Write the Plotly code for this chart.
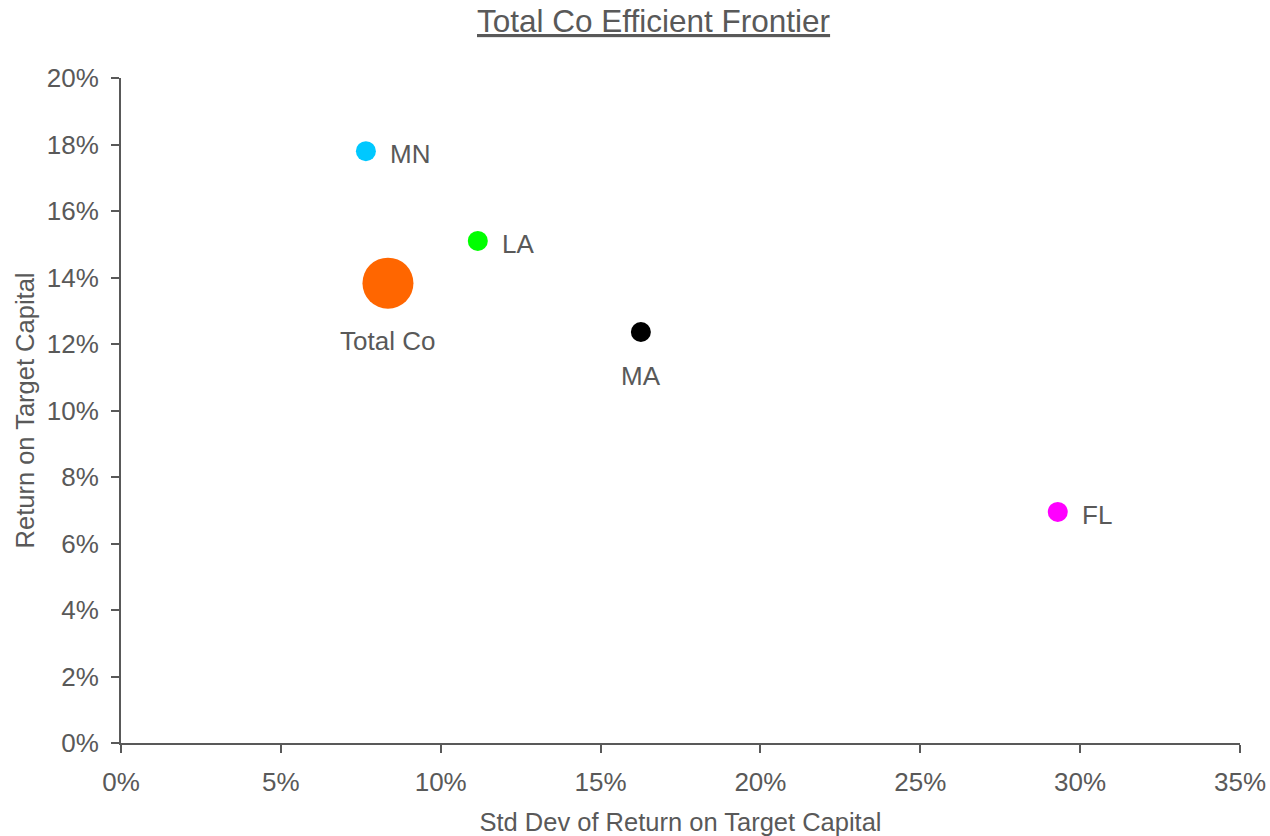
import plotly.graph_objects as go

names = ["MN", "LA", "Total Co", "MA", "FL"]
std_dev = [0.0766, 0.1116, 0.0835, 0.1626, 0.2930]
returns = [0.1780, 0.1510, 0.1383, 0.1236, 0.0695]
colors = ["#00C8FF", "#00FF00", "#FF6600", "#000000", "#FF00FF"]
sizes = [20, 20, 51, 20, 20]
label_side = ["right", "right", "below", "below", "right"]

x_ticks = [0, 0.05, 0.10, 0.15, 0.20, 0.25, 0.30, 0.35]
y_ticks = [0, 0.02, 0.04, 0.06, 0.08, 0.10, 0.12, 0.14, 0.16, 0.18, 0.20]

font = "Liberation Sans, Arial, sans-serif"
grey = "#595959"

fig = go.Figure()
fig.add_trace(go.Scatter(
    x=std_dev, y=returns, mode="markers",
    marker=dict(color=colors, size=sizes, opacity=1, line=dict(width=0)),
    showlegend=False, cliponaxis=False,
))

for n, x, y, side in zip(names, std_dev, returns, label_side):
    if side == "right":
        fig.add_annotation(x=x, y=y, text=n, showarrow=False, xanchor="left", yanchor="middle",
                           xshift=22, yshift=-3, font=dict(family=font, size=26, color=grey))
    else:
        shift = -58 if n == "Total Co" else -44
        fig.add_annotation(x=x, y=y, text=n, showarrow=False, xanchor="center", yanchor="middle",
                           yshift=shift, font=dict(family=font, size=26, color=grey))

# title as annotation above the plot
fig.add_annotation(xref="paper", yref="paper", x=0.476, y=1, xanchor="center", yanchor="middle",
                   yshift=57, showarrow=False, text="<u>Total Co Efficient Frontier</u>",
                   font=dict(family=font, size=31.5, color=grey))

fig.update_layout(
    width=1270, height=836,
    paper_bgcolor="white", plot_bgcolor="white",
    margin=dict(l=121, r=30, t=78, b=93),
    font=dict(family=font, color=grey),
)
fig.update_xaxes(
    range=[0, 0.35], tickvals=x_ticks, tickformat=".0%", automargin=False,
    showgrid=False, zeroline=False, showline=True, linecolor=grey, linewidth=2,
    ticks="outside", ticklen=8, tickwidth=2, tickcolor=grey, ticklabelstandoff=7,
    tickfont=dict(family=font, size=26, color=grey),
    title=dict(text="Std Dev of Return on Target Capital", font=dict(family=font, size=25.5, color=grey), standoff=18),
)
fig.update_yaxes(
    range=[0, 0.20], tickvals=y_ticks, tickformat=".0%", automargin=False,
    showgrid=False, zeroline=False, showline=True, linecolor=grey, linewidth=2,
    ticks="outside", ticklen=8, tickwidth=2, tickcolor=grey, ticklabelstandoff=7,
    tickfont=dict(family=font, size=26, color=grey),
    title=dict(text="Return on Target Capital", font=dict(family=font, size=25.5, color=grey), standoff=5),
)

fig.write_html("out.html", config={"displayModeBar": False},
               post_script="document.body.style.margin='0';document.body.style.overflow='hidden';")
